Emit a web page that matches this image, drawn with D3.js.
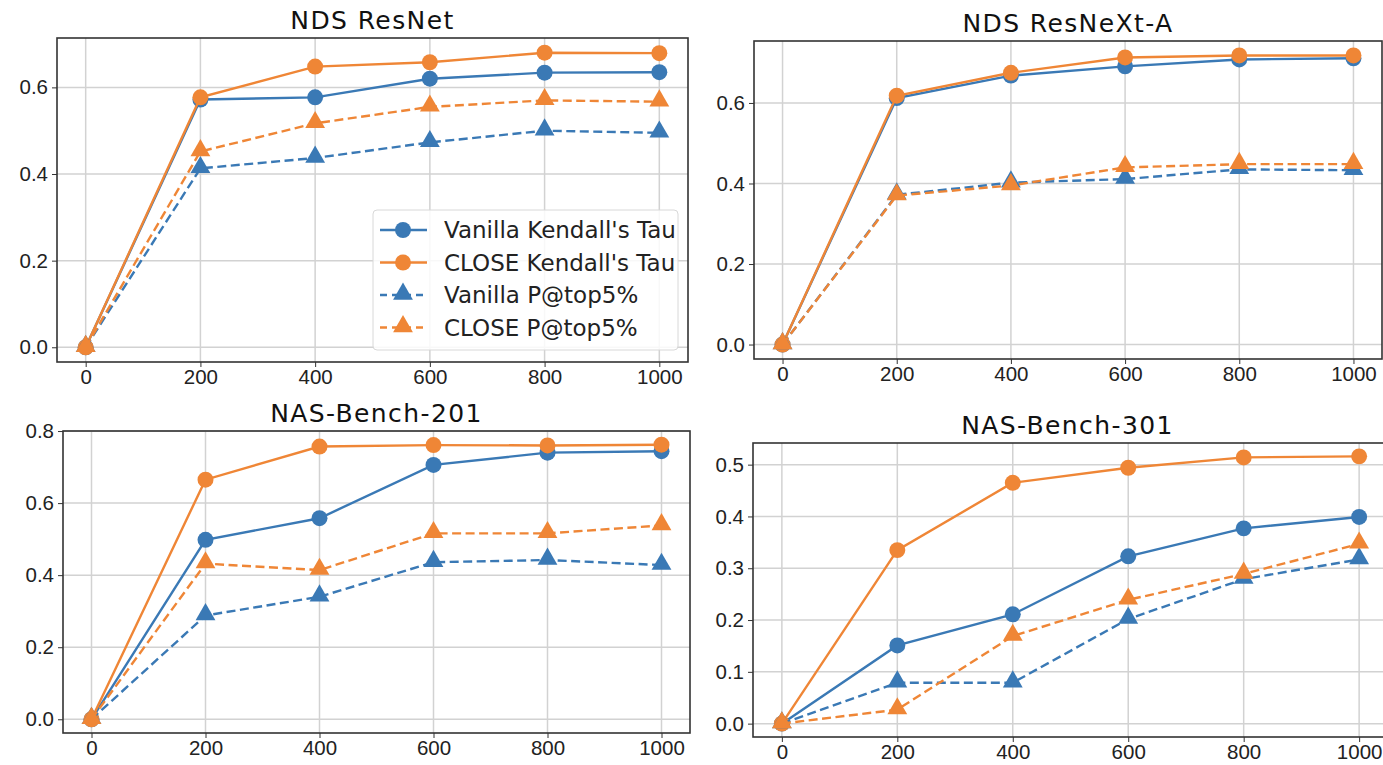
<!DOCTYPE html>
<html lang="en">
<head>
<meta charset="utf-8">
<title>CLOSE vs Vanilla</title>
<script src="https://cdn.jsdelivr.net/npm/d3@7"></script>
<style>
  body { margin: 0; background: #fff; }
  svg { display: block; font-family: "DejaVu Sans", sans-serif; }
  .grid line { stroke: #d2d2d2; stroke-width: 1.5px; }
  .frame { fill: none; stroke: #333; stroke-width: 1.6px; }
  .tick line { stroke: #333; }
  .tick text { font-size: 20.5px; fill: #222; }
  .title { font-size: 25px; letter-spacing: 1.4px; fill: #111; text-anchor: middle; }
  .legend text { font-size: 23px; fill: #222; }
</style>
</head>
<body>
<div id="chart"></div>
<script>
// x positions (training samples)
var steps = [0, 200, 400, 600, 800, 1000];

// NDS ResNet
var resnetVanillaTau = [0, 0.572, 0.577, 0.620, 0.634, 0.635];
var resnetCloseTau   = [0, 0.577, 0.648, 0.658, 0.680, 0.679];
var resnetVanillaP   = [0, 0.413, 0.437, 0.473, 0.500, 0.495];
var resnetCloseP     = [0, 0.452, 0.517, 0.555, 0.570, 0.567];

// NDS ResNeXt-A
var resnextVanillaTau = [0, 0.612, 0.668, 0.691, 0.708, 0.711];
var resnextCloseTau   = [0, 0.618, 0.675, 0.713, 0.718, 0.718];
var resnextVanillaP   = [0, 0.372, 0.402, 0.411, 0.435, 0.433];
var resnextCloseP     = [0, 0.370, 0.395, 0.440, 0.448, 0.448];

// NAS-Bench-201
var nb201VanillaTau = [0, 0.498, 0.558, 0.706, 0.740, 0.744];
var nb201CloseTau   = [0, 0.665, 0.757, 0.761, 0.760, 0.762];
var nb201VanillaP   = [0, 0.288, 0.340, 0.436, 0.442, 0.428];
var nb201CloseP     = [0, 0.432, 0.414, 0.516, 0.516, 0.538];

// NAS-Bench-301
var nb301VanillaTau = [0, 0.151, 0.211, 0.323, 0.377, 0.399];
var nb301CloseTau   = [0, 0.335, 0.465, 0.494, 0.514, 0.516];
var nb301VanillaP   = [0, 0.079, 0.079, 0.202, 0.279, 0.317];
var nb301CloseP     = [0, 0.027, 0.169, 0.239, 0.289, 0.347];

var seriesNames = ["Vanilla Kendall's Tau", "CLOSE Kendall's Tau", "Vanilla P@top5%", "CLOSE P@top5%"];
var xTicks = [0, 200, 400, 600, 800, 1000];
var yTicksA = [0, 0.2, 0.4, 0.6];
var yTicksB = [0, 0.2, 0.4, 0.6, 0.8];
var yTicksC = [0, 0.1, 0.2, 0.3, 0.4, 0.5];

var blue = "#3a79b5", orange = "#ef8636";
var styles = [
  {color: blue, dash: null, marker: "circle"},
  {color: orange, dash: null, marker: "circle"},
  {color: blue, dash: "9,4.5", marker: "triangle"},
  {color: orange, dash: "9,4.5", marker: "triangle"}
];

var panels = [
  {title: "NDS ResNet", box: [57, 38, 688, 362], yTicks: yTicksA, legend: true,
   series: [resnetVanillaTau, resnetCloseTau, resnetVanillaP, resnetCloseP]},
  {title: "NDS ResNeXt-A", box: [754, 41, 1382, 359], yTicks: yTicksA,
   series: [resnextVanillaTau, resnextCloseTau, resnextVanillaP, resnextCloseP]},
  {title: "NAS-Bench-201", box: [63, 431, 690, 733], yTicks: yTicksB,
   series: [nb201VanillaTau, nb201CloseTau, nb201VanillaP, nb201CloseP]},
  {title: "NAS-Bench-301", box: [753, 443, 1388, 737], yTicks: yTicksC,
   series: [nb301VanillaTau, nb301CloseTau, nb301VanillaP, nb301CloseP]}
];

var svg = d3.select("#chart").append("svg")
    .attr("width", 1383)
    .attr("height", 765);

var circleSym = d3.symbol().type(d3.symbolCircle).size(200);
var triSym = d3.symbol().type(d3.symbolTriangle).size(170);

panels.forEach(function(p) {
  var x0 = p.box[0], y0 = p.box[1], x1 = p.box[2], y1 = p.box[3];
  var all = [].concat.apply([], p.series);
  var ymin = d3.min(all), ymax = d3.max(all);
  var pad = (ymax - ymin) * 0.05;

  var x = d3.scaleLinear().domain([-50, 1050]).range([x0, x1]);
  var y = d3.scaleLinear().domain([ymin - pad, ymax + pad]).range([y1, y0]);

  var g = svg.append("g");

  // grid
  var grid = g.append("g").attr("class", "grid");
  grid.selectAll(".gx").data(xTicks).enter().append("line")
      .attr("x1", function(d) { return x(d); }).attr("x2", function(d) { return x(d); })
      .attr("y1", y0).attr("y2", y1);
  grid.selectAll(".gy").data(p.yTicks).enter().append("line")
      .attr("y1", function(d) { return y(d); }).attr("y2", function(d) { return y(d); })
      .attr("x1", x0).attr("x2", x1);

  // axes
  g.append("g")
      .attr("transform", "translate(0," + y1 + ")")
      .call(d3.axisBottom(x).tickValues(xTicks).tickSize(5).tickPadding(2).tickFormat(d3.format("d")))
      .call(function(a) { a.select(".domain").remove(); });
  g.append("g")
      .attr("transform", "translate(" + x0 + ",0)")
      .call(d3.axisLeft(y).tickValues(p.yTicks).tickSize(5).tickPadding(4).tickFormat(d3.format(".1f")))
      .call(function(a) { a.select(".domain").remove(); });

  // lines + markers
  var line = d3.line()
      .x(function(d, i) { return x(steps[i]); })
      .y(function(d) { return y(d); });

  p.series.forEach(function(vals, si) {
    var st = styles[si];
    g.append("path")
        .datum(vals)
        .attr("d", line)
        .attr("fill", "none")
        .attr("stroke", st.color)
        .attr("stroke-width", 2.4)
        .attr("stroke-dasharray", st.dash);
    g.selectAll(".m" + si).data(vals).enter().append("path")
        .attr("d", st.marker === "circle" ? circleSym : triSym)
        .attr("transform", function(d, i) { return "translate(" + x(steps[i]) + "," + (y(d) + (st.marker === "circle" ? 0 : -1)) + ")"; })
        .attr("fill", st.color);
  });

  g.append("rect").attr("class", "frame")
      .attr("x", x0).attr("y", y0)
      .attr("width", x1 - x0).attr("height", y1 - y0);

  g.append("text").attr("class", "title")
      .attr("x", (x0 + x1) / 2 + (x1 > 1383 ? -3 : 0))
      .attr("y", y0 - 9)
      .text(p.title);

  if (p.legend) {
    var lg = g.append("g").attr("class", "legend");
    lg.append("rect")
        .attr("x", 373).attr("y", 210).attr("width", 305).attr("height", 140)
        .attr("rx", 4)
        .attr("fill", "#fff").attr("fill-opacity", 0.85)
        .attr("stroke", "#d8d8d8");
    seriesNames.forEach(function(name, i) {
      var st = styles[i];
      var cy = 230 + i * 32.5;
      lg.append("line")
          .attr("x1", 380).attr("x2", 427).attr("y1", cy).attr("y2", cy)
          .attr("stroke", st.color).attr("stroke-width", 2.4)
          .attr("stroke-dasharray", st.dash ? "7,5" : null);
      lg.append("path")
          .attr("d", st.marker === "circle" ? circleSym : triSym)
          .attr("transform", "translate(403," + (cy - (st.marker === "circle" ? 0 : 1)) + ")")
          .attr("fill", st.color);
      lg.append("text")
          .attr("x", 444).attr("y", cy).attr("dy", "0.36em")
          .text(name);
    });
  }
});
</script>
</body>
</html>
